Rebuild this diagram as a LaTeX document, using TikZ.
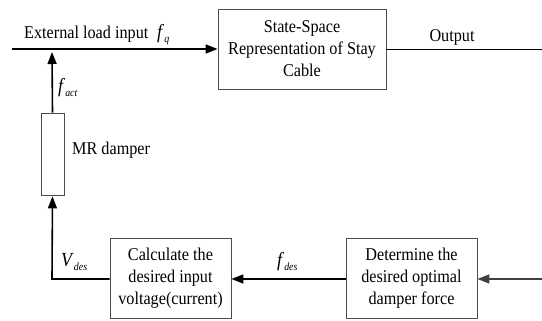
\documentclass[tikz,border=0pt]{standalone}
\usepackage{fontspec}
\setmainfont{Liberation Serif}[FakeStretch=0.9]
\usetikzlibrary{arrows.meta}
\newcommand\fvar[2]{\textit{#1}\raisebox{-0.45ex}{\fontsize{11bp}{11bp}\selectfont\textit{#2}}}
\tikzset{
  blk/.style={draw=black!70, line width=0.8bp, fill=white, align=center,
    inner sep=0pt, font=\fontsize{18bp}{22bp}\selectfont},
  wire/.style={line width=1.6bp, black},
  tip/.style={-{Triangle[length=12bp,width=9bp]}},
  lbl/.style={inner sep=0pt, font=\fontsize{18bp}{22bp}\selectfont},
  sym/.style={inner sep=0pt, font=\fontsize{20bp}{22bp}\selectfont}
}
\begin{document}
\begin{tikzpicture}[x=1bp,y=-1bp]
\useasboundingbox (0,0) rectangle (542,320);
% blocks
\node[blk, minimum width=168bp, minimum height=80bp] (ss) at (302,49)
  {State-Space\\Representation of Stay\\Cable};
\node[blk, minimum width=23bp, minimum height=82bp] (mr) at (52.5,154) {};
\node[blk, minimum width=121bp, minimum height=80bp] (calc) at (170.5,278)
  {Calculate the\\desired input\\voltage(current)};
\node[blk, minimum width=131bp, minimum height=80bp] (det) at (411.5,278)
  {Determine the\\desired optimal\\damper force};
% free ends and corners
\coordinate (in) at (12,49);
\coordinate (out) at (542,49);
\coordinate (rin) at (542,279);
\coordinate (sum) at (52,52);
\coordinate (corner) at (52,279);
% connectors
\draw[wire, tip] (in) -- (ss.west);
\draw[wire, line width=1bp] (ss.east) -- (out);
\draw[wire, tip] (mr.north) -- (sum);
\draw[wire, tip] (calc.west |- corner) -- (corner) -- ([yshift=-1bp]mr.south);
\draw[wire, tip] (det.west |- corner) -- (calc.east |- corner);
\draw[wire, tip, draw=black!75, fill=black!75] (rin) -- (det.east |- rin);
% labels
\node[lbl, anchor=base west] (ext) at (24,38) {External load input};
\node[sym, anchor=base west] (fq) at (157,38) {\fvar{f}{q}};
\node[lbl] (outl) at (452,37) {Output};
\node[sym, anchor=base west] (fact) at (58,92) {\fvar{f}{act}};
\node[lbl, anchor=west] (mrl) at (72,150) {MR damper};
\node[sym, anchor=base west] (vdes) at (61,266) {\fvar{V}{des}};
\node[sym, anchor=base west] (fdes) at (277,266) {\fvar{f}{des}};
\end{tikzpicture}
\end{document}
